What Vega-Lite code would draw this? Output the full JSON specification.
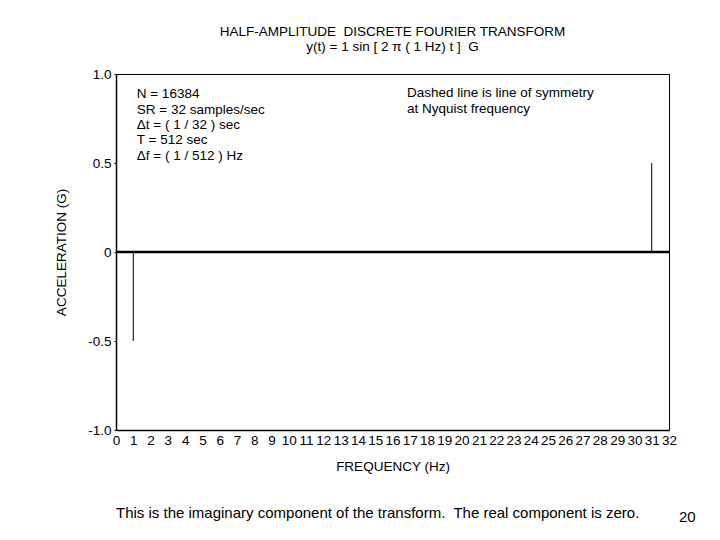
{
  "$schema": "https://vega.github.io/schema/vega-lite/v6.json",
  "width": 553,
  "height": 356,
  "autosize": {"type": "none"},
  "padding": {"left": 116, "top": 74, "right": 51, "bottom": 110},
  "background": "white",
  "config": {
    "font": "Liberation Sans",
    "view": {"stroke": "black", "strokeWidth": 1},
    "axis": {"domainColor": "black", "domainWidth": 1.5, "tickColor": "black", "labelColor": "black", "titleColor": "black", "grid": false, "labelFontSize": 13.5, "titleFontSize": 13.5, "titleFontWeight": "normal"}
  },
  "title": {
    "text": ["HALF-AMPLITUDE\u00a0 DISCRETE FOURIER TRANSFORM", "y(t) = 1 sin [ 2 π ( 1 Hz) t ]\u00a0 G"],
    "fontSize": 13.5,
    "fontWeight": "normal",
    "lineHeight": 15,
    "anchor": "middle",
    "offset": 14,
    "color": "black"
  },
  "datasets": {
    "spectrum": [
      {"x": 1, "y": -0.5},
      {"x": 31, "y": 0.5}
    ],
    "notes": [
      {"x": 1.2, "y": 0.925, "label": "N = 16384\nSR = 32 samples/sec\nΔt = ( 1 / 32 ) sec\nT = 512 sec\nΔf = ( 1 / 512 ) Hz"},
      {"x": 16.84, "y": 0.93, "label": "Dashed line is line of symmetry\nat Nyquist frequency"}
    ],
    "footer": [
      {"x": 0, "y": -1.466, "label": "This is the imaginary component of the transform.\u00a0 The real component is zero."},
      {"x": 32.58, "y": -1.49, "label": "20"}
    ]
  },
  "encoding": {
    "x": {
      "field": "x", "type": "quantitative",
      "scale": {"domain": [0, 32], "nice": false, "zero": false},
      "axis": {"title": "FREQUENCY (Hz)", "values": [0,1,2,3,4,5,6,7,8,9,10,11,12,13,14,15,16,17,18,19,20,21,22,23,24,25,26,27,28,29,30,31,32], "labelOverlap": false, "labelFlush": false, "format": "d", "tickSize": 0, "labelPadding": 3, "titlePadding": 13}
    },
    "y": {
      "field": "y", "type": "quantitative",
      "scale": {"domain": [-1, 1], "nice": false},
      "axis": {"title": "ACCELERATION (G)", "values": [-1, -0.5, 0, 0.5, 1], "labelExpr": "datum.value == 0 ? '0' : (datum.value < 0 ? '-' : '') + format(abs(datum.value), '.1f')", "tickSize": 2, "labelPadding": 3, "titlePadding": 19}
    }
  },
  "layer": [
    {
      "data": {"name": "spectrum"},
      "mark": {"type": "rule", "color": "black", "strokeWidth": 1},
      "encoding": {
        "y2": {"datum": 0}
      }
    },
    {
      "data": {"values": [{"x": 0, "x2": 32, "y": 0}]},
      "mark": {"type": "rule", "color": "black", "strokeWidth": 2.5},
      "encoding": {
        "x2": {"field": "x2"}
      }
    },
    {
      "data": {"name": "notes"},
      "mark": {"type": "text", "align": "left", "baseline": "top", "fontSize": 13.5, "lineHeight": 15.3, "lineBreak": "\n", "color": "black"},
      "encoding": {
        "text": {"field": "label"}
      }
    },
    {
      "data": {"name": "footer"},
      "mark": {"type": "text", "align": "left", "baseline": "middle", "fontSize": 15, "color": "black", "clip": false},
      "encoding": {
        "text": {"field": "label"}
      }
    }
  ]
}
